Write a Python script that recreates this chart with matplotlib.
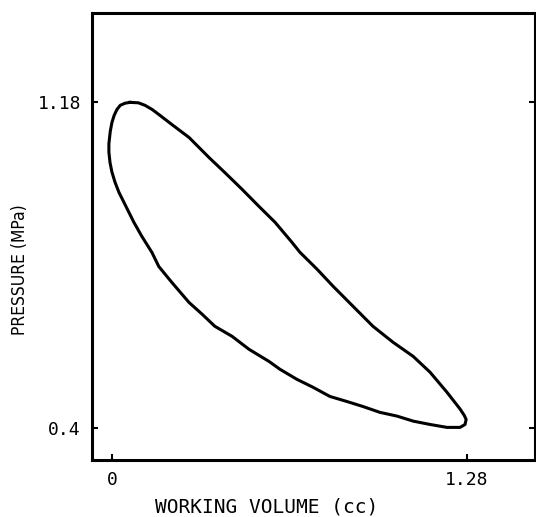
import numpy as np
import matplotlib
matplotlib.use("Agg")
import matplotlib.pyplot as plt

# P-V loop (clockwise from the pressure peak)
volume = [0.065, 0.095, 0.119, 0.145, 0.169, 0.216, 0.278, 0.350, 0.407, 0.469,
          0.530, 0.588, 0.649, 0.678, 0.739, 0.797, 0.869, 0.941, 1.013, 1.086,
          1.147, 1.208, 1.255, 1.270, 1.277, 1.273, 1.255,
          1.208, 1.147, 1.086, 1.028, 0.966, 0.905, 0.847, 0.786, 0.725, 0.667,
          0.606, 0.566, 0.494, 0.433, 0.371, 0.325, 0.278, 0.216, 0.169, 0.144,
          0.108, 0.079, 0.043, 0.025, 0.011, 0.000, -0.007, -0.011, -0.011,
          -0.006, 0.000, 0.008, 0.018, 0.030, 0.047, 0.065]
pressure = [1.179, 1.178, 1.172, 1.162, 1.150, 1.126, 1.095, 1.047, 1.011, 0.971,
            0.930, 0.892, 0.844, 0.820, 0.780, 0.739, 0.691, 0.643, 0.605, 0.571,
            0.533, 0.485, 0.445, 0.430, 0.420, 0.408, 0.401,
            0.401, 0.408, 0.416, 0.428, 0.437, 0.451, 0.463, 0.475, 0.497, 0.516,
            0.540, 0.559, 0.588, 0.619, 0.643, 0.672, 0.700, 0.748, 0.786, 0.820,
            0.858, 0.892, 0.940, 0.964, 0.988, 1.012, 1.035, 1.060, 1.080,
            1.110, 1.131, 1.148, 1.162, 1.172, 1.177, 1.179]

xticks = [0, 1.28]
xtick_labels = ["0", "1.28"]
yticks = [0.4, 1.18]
ytick_labels = ["0.4", "1.18"]

plt.rcParams['font.family'] = ['DejaVu Sans Mono']

fig = plt.figure(figsize=(5.36, 5.17), dpi=100)
ax = fig.add_axes([0.1716, 0.1103, 0.8264, 0.8646])

ax.plot(volume, pressure, color="black", lw=2.2, solid_joinstyle="round")

ax.set_xlim(-0.072, 1.525)
ax.set_ylim(0.323, 1.393)

ax.set_xticks(xticks)
ax.set_xticklabels(xtick_labels)
ax.set_yticks(yticks)
ax.set_yticklabels(ytick_labels)
ax.tick_params(direction="in", length=4, width=1.5, labelsize=13, pad=8,
               right=True)

for s in ax.spines.values():
    s.set_linewidth(2.2)

ax.text(0.395, -0.105, "WORKING VOLUME (cc)", transform=ax.transAxes,
        fontsize=14, ha="center", va="center")
ax.text(-0.163, 0.425, "PRESSURE (MPa)", transform=ax.transAxes,
        fontsize=12.5, family=["DejaVu Sans"], stretch="condensed",
        rotation=90, ha="center", va="center")

fig.savefig("out.png", dpi=100)
